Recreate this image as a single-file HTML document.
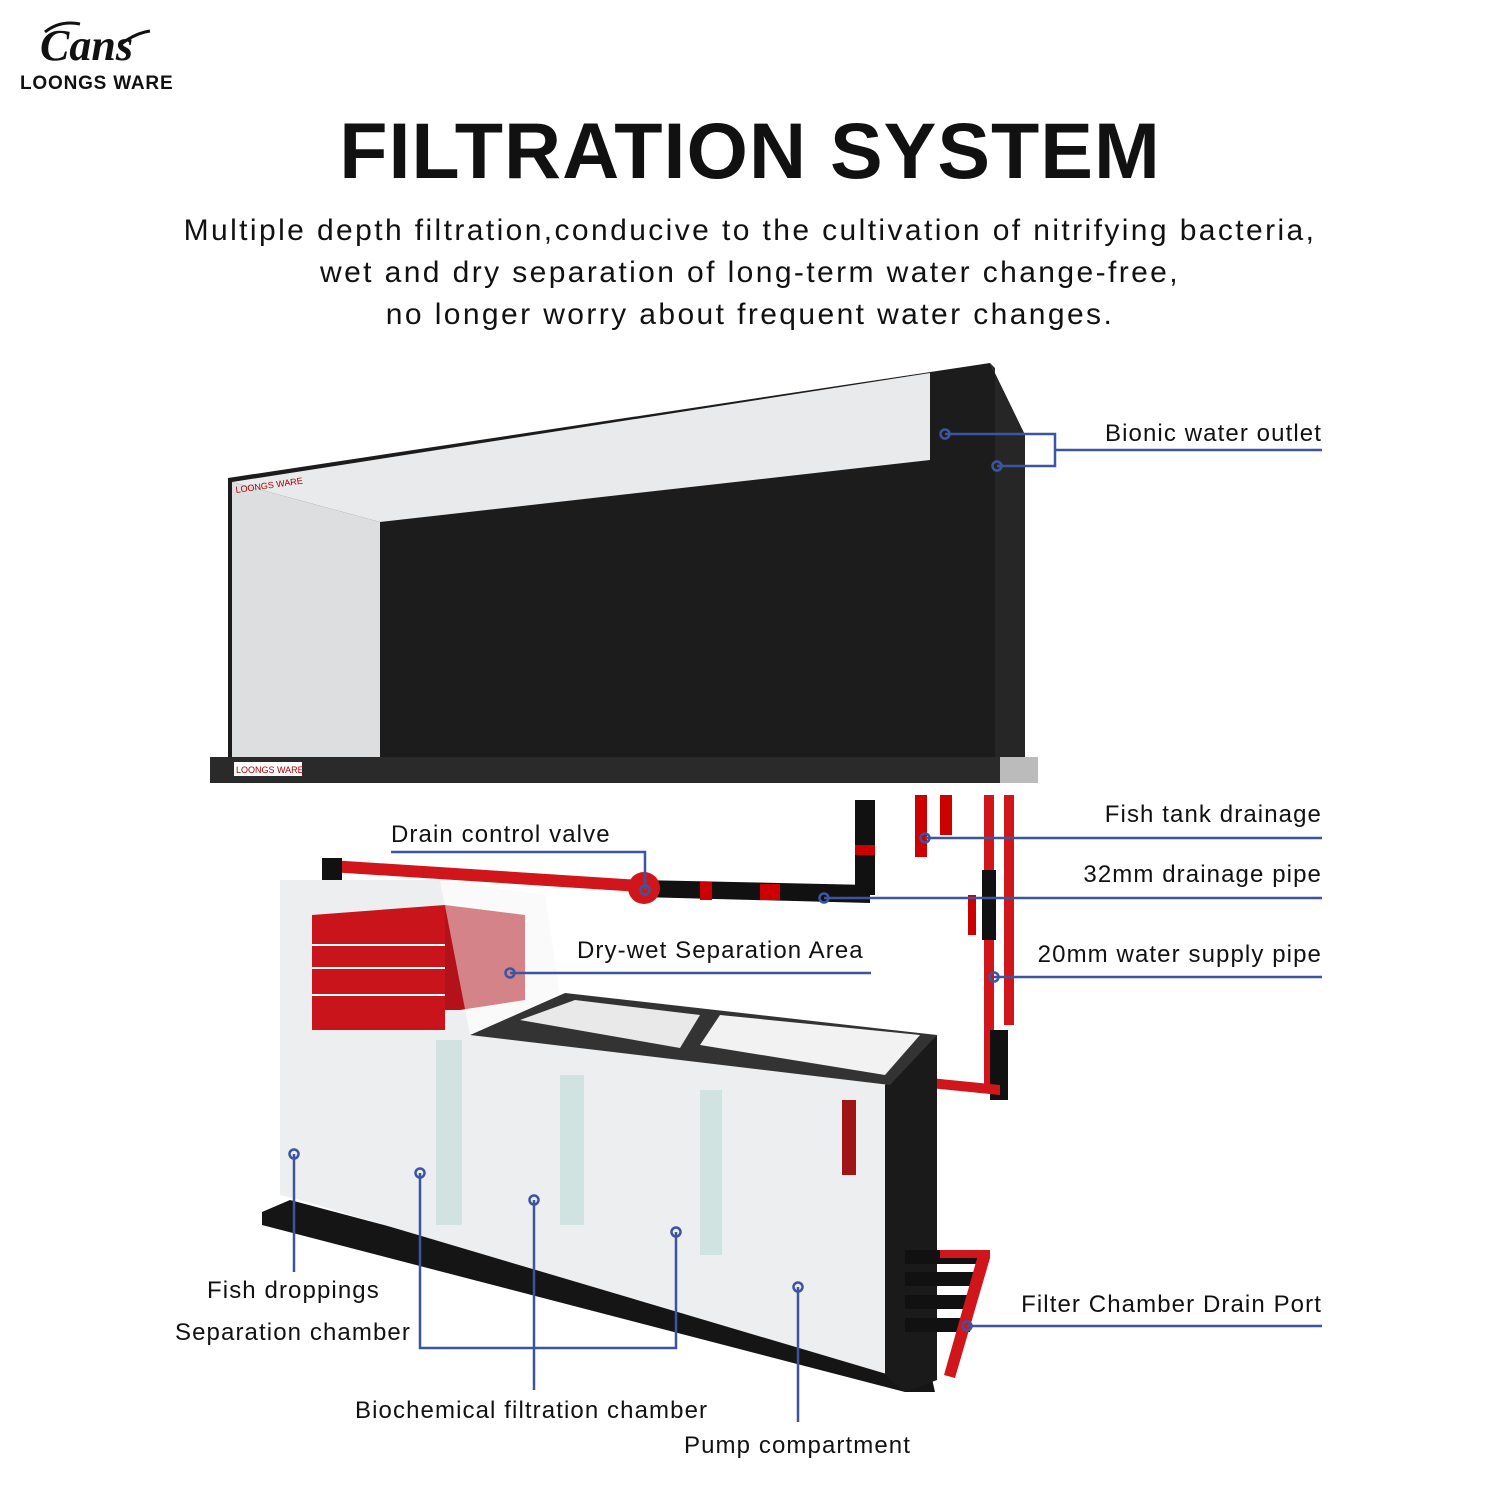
<!DOCTYPE html>
<html><head><meta charset="utf-8"><style>
html,body{margin:0;padding:0;background:#fff}
svg{display:block}
text{font-family:"Liberation Sans",sans-serif;fill:#111}
</style></head><body>
<svg width="1500" height="1500" viewBox="0 0 1500 1500" xmlns="http://www.w3.org/2000/svg">
<rect width="1500" height="1500" fill="#fff"/>
<!-- logo -->
<text x="40" y="60" font-style="italic" font-size="44" font-weight="bold" style="font-family:'Liberation Serif',serif">Cans</text>
<path d="M45 32 q15 -12 35 -8" stroke="#111" stroke-width="3" fill="none"/>
<path d="M120 45 q15 -12 30 -14" stroke="#111" stroke-width="3" fill="none"/>
<text x="20" y="89" font-size="19" font-weight="bold" letter-spacing="0.8">LOONGS WARE</text>
<!-- title -->
<text x="750" y="178" text-anchor="middle" font-size="79" font-weight="bold" letter-spacing="1">FILTRATION SYSTEM</text>
<g font-size="30" text-anchor="middle" letter-spacing="2.4">
<text x="750" y="240">Multiple depth filtration,conducive to the cultivation of nitrifying bacteria,</text>
<text x="750" y="282">wet and dry separation of long-term water change-free,</text>
<text x="750" y="324">no longer worry about frequent water changes.</text>
</g>
<!-- upper tank -->
<polygon points="228,478 990,363 1025,435 1025,757 228,757" fill="#1c1c1c"/>
<polygon points="990,363 1025,435 1025,757 995,757 995,368" fill="#262626"/>
<polygon points="232,482 930,373 930,460 380,522" fill="#e8eaec"/>
<polygon points="232,482 380,522 380,757 232,757" fill="#dcdee0"/>
<rect x="210" y="757" width="828" height="26" fill="#2a2a2a"/>
<rect x="1000" y="757" width="38" height="26" fill="#bbb"/>
<rect x="234" y="762" width="68" height="14" fill="#fff"/>
<text x="236" y="773" font-size="9" style="fill:#a00">LOONGS WARE</text>
<text x="236" y="493" font-size="9" style="fill:#a00" transform="rotate(-8 236 493)">LOONGS WARE</text>
<!-- pipes upper -->
<rect x="855" y="800" width="20" height="95" fill="#111"/>
<rect x="855" y="845" width="20" height="10" fill="#c00"/>
<rect x="915" y="795" width="12" height="62" fill="#c00"/>
<rect x="940" y="795" width="12" height="40" fill="#c00"/>
<rect x="984" y="795" width="10" height="295" fill="#d0161a"/>
<rect x="1004" y="795" width="10" height="230" fill="#d0161a"/>
<rect x="982" y="870" width="14" height="70" fill="#111"/>
<rect x="990" y="1030" width="18" height="70" fill="#111"/>
<rect x="968" y="895" width="8" height="40" fill="#c00"/>
<polygon points="900,1075 1000,1085 1000,1095 900,1085" fill="#d0161a"/>
<polygon points="330,860 640,880 640,892 330,872" fill="#d0161a"/>
<rect x="322" y="858" width="20" height="30" fill="#111"/>
<polygon points="640,880 870,885 870,903 640,897" fill="#111"/>
<rect x="700" y="882" width="12" height="18" fill="#c00"/>
<rect x="760" y="884" width="20" height="16" fill="#c00"/>
<circle cx="644" cy="888" r="16" fill="#d0161a"/>
<!-- sump -->
<polygon points="262,1212 290,1200 930,1370 935,1392 905,1392 262,1225" fill="#151515"/>
<polygon points="280,880 440,880 470,1035 890,1085 890,1375 300,1200 280,1195" fill="#eceeef"/>
<polygon points="885,1085 937,1035 937,1380 905,1392 885,1375" fill="#1a1a1a"/>
<polygon points="470,1035 565,993 937,1035 890,1085" fill="#333"/>
<polygon points="520,1020 575,1000 700,1015 680,1048" fill="#e9e9e9"/>
<polygon points="700,1045 720,1015 920,1035 885,1075" fill="#f2f2f2"/>
<polygon points="312,915 445,905 445,1030 312,1030" fill="#c8141a"/>
<g stroke="#fff" stroke-width="2"><line x1="312" y1="945" x2="445" y2="945"/><line x1="312" y1="968" x2="445" y2="968"/><line x1="312" y1="995" x2="445" y2="995"/></g>
<polygon points="445,905 525,915 525,1000 460,1010 445,1010" fill="#b3121a"/>
<polygon points="440,880 545,895 560,995 470,1035" fill="#f5f5f5" opacity="0.5"/>
<g fill="#c9e0dc" opacity="0.8">
<rect x="436" y="1040" width="26" height="185"/><rect x="560" y="1075" width="24" height="150"/><rect x="700" y="1090" width="22" height="165"/>
</g>
<rect x="842" y="1100" width="14" height="75" fill="#a01418"/>
<!-- drain ports -->
<g fill="#111"><rect x="905" y="1250" width="80" height="14"/><rect x="905" y="1272" width="75" height="14"/><rect x="905" y="1295" width="70" height="14"/><rect x="905" y="1318" width="65" height="14"/></g>
<polygon points="978,1255 990,1258 955,1378 944,1375" fill="#d0161a"/>
<polygon points="940,1250 990,1250 990,1258 940,1258" fill="#d0161a"/>
<!-- callouts -->
<g stroke="#3b55a0" stroke-width="2.5" fill="none">
<polyline points="945,434 1055,434 1055,466 997,466"/><line x1="1055" y1="450" x2="1322" y2="450"/>
<line x1="925" y1="838" x2="1322" y2="838"/>
<line x1="824" y1="898" x2="1322" y2="898"/>
<line x1="994" y1="977" x2="1322" y2="977"/>
<line x1="967" y1="1326" x2="1322" y2="1326"/>
<polyline points="391,852 645,852 645,890"/>
<line x1="510" y1="973" x2="871" y2="973"/>
<line x1="294" y1="1154" x2="294" y2="1272"/>
<polyline points="420,1173 420,1348 676,1348 676,1232"/>
<line x1="534" y1="1200" x2="534" y2="1390"/>
<line x1="798" y1="1287" x2="798" y2="1422"/>
<g stroke-width="2.5"><circle cx="945" cy="434" r="4.5"/><circle cx="997" cy="466" r="4.5"/><circle cx="925" cy="838" r="4.5"/><circle cx="824" cy="898" r="4.5"/><circle cx="994" cy="977" r="4.5"/><circle cx="967" cy="1326" r="4.5"/><circle cx="645" cy="890" r="4.5"/><circle cx="510" cy="973" r="4.5"/><circle cx="294" cy="1154" r="4.5"/><circle cx="420" cy="1173" r="4.5"/><circle cx="676" cy="1232" r="4.5"/><circle cx="534" cy="1200" r="4.5"/><circle cx="798" cy="1287" r="4.5"/></g>
</g>
<g font-size="24" letter-spacing="1.1">
<text x="1322" y="441" text-anchor="end">Bionic water outlet</text>
<text x="1322" y="822" text-anchor="end">Fish tank drainage</text>
<text x="1322" y="882" text-anchor="end">32mm drainage pipe</text>
<text x="1322" y="962" text-anchor="end">20mm water supply pipe</text>
<text x="1322" y="1312" text-anchor="end">Filter Chamber Drain Port</text>
<text x="391" y="842">Drain control valve</text>
<text x="577" y="958">Dry-wet Separation Area</text>
<text x="207" y="1298">Fish droppings</text>
<text x="175" y="1340">Separation chamber</text>
<text x="355" y="1418">Biochemical filtration chamber</text>
<text x="684" y="1453">Pump compartment</text>
</g>
</svg>
</body></html>
